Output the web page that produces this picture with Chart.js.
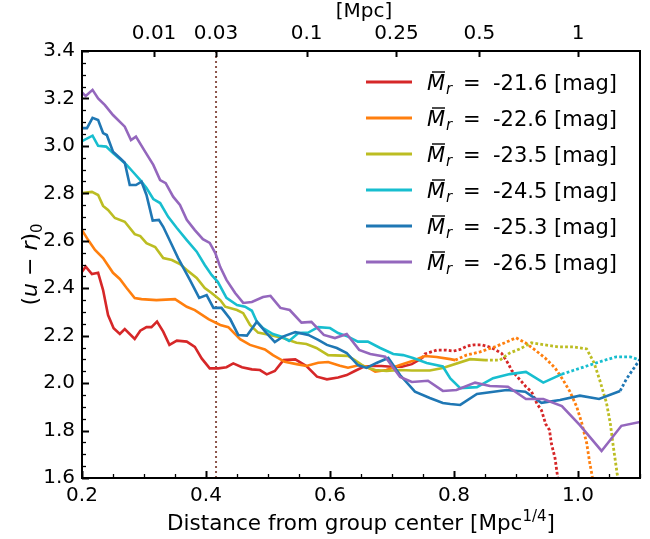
<!DOCTYPE html>
<html lang="en">
<head>
    <meta charset="UTF-8">
    <title>Colour profiles vs. group-centric distance</title>
    <script src="https://cdn.jsdelivr.net/npm/chart.js"></script>
    <style>
        body {
            margin: 0;
            padding: 0;
            background: #ffffff;
        }
        .chart-wrapper {
            position: relative;
            width: 650px;
            height: 539px;
        }
    </style>
</head>
<body>
    <div class="chart-wrapper">
        <canvas id="profileChart"></canvas>
    </div>
    <script>
        // --- data: [distance (Mpc^1/4), (u-r)_0] ---
        var redSolid = [[0.2,2.47],[0.206,2.491],[0.216,2.46],[0.226,2.465],[0.234,2.392],[0.242,2.287],[0.251,2.231],[0.261,2.207],[0.269,2.228],[0.285,2.186],[0.294,2.221],[0.304,2.236],[0.312,2.236],[0.321,2.259],[0.331,2.217],[0.341,2.161],[0.353,2.179],[0.369,2.175],[0.382,2.153],[0.393,2.104],[0.406,2.062],[0.42,2.062],[0.433,2.067],[0.444,2.083],[0.458,2.067],[0.474,2.058],[0.487,2.055],[0.498,2.037],[0.511,2.051],[0.525,2.097],[0.544,2.1],[0.562,2.072],[0.579,2.027],[0.595,2.016],[0.613,2.024],[0.627,2.034],[0.64,2.051],[0.654,2.069],[0.667,2.072],[0.683,2.072],[0.699,2.069],[0.716,2.069],[0.732,2.08],[0.748,2.104]];
        var redDotted = [[0.748,2.104],[0.753,2.123],[0.772,2.139],[0.788,2.139],[0.799,2.135],[0.81,2.142],[0.821,2.156],[0.832,2.161],[0.845,2.161],[0.856,2.153],[0.866,2.142],[0.877,2.125],[0.888,2.08],[0.893,2.053],[0.901,2.03],[0.909,2.006],[0.916,1.985],[0.925,1.964],[0.934,1.912],[0.941,1.886],[0.948,1.827],[0.954,1.802],[0.957,1.746],[0.963,1.683],[0.966,1.626],[0.968,1.59]];

        var orangeSolid = [[0.2,2.645],[0.21,2.603],[0.221,2.561],[0.234,2.527],[0.25,2.465],[0.261,2.439],[0.272,2.401],[0.285,2.359],[0.296,2.354],[0.32,2.35],[0.35,2.354],[0.369,2.322],[0.382,2.308],[0.404,2.27],[0.423,2.245],[0.436,2.236],[0.455,2.185],[0.471,2.161],[0.495,2.142],[0.508,2.118],[0.527,2.09],[0.546,2.08],[0.562,2.072],[0.581,2.086],[0.597,2.089],[0.616,2.073],[0.629,2.065],[0.648,2.076],[0.659,2.069],[0.673,2.048],[0.691,2.055],[0.713,2.076],[0.734,2.094],[0.753,2.114],[0.772,2.11],[0.794,2.101],[0.802,2.097]];
        var orangeDotted = [[0.802,2.097],[0.82,2.118],[0.842,2.132],[0.866,2.153],[0.882,2.17],[0.9,2.191],[0.915,2.17],[0.931,2.139],[0.947,2.106],[0.963,2.064],[0.976,2.013],[0.987,1.964],[0.998,1.9],[1.006,1.832],[1.014,1.747],[1.019,1.663],[1.022,1.621],[1.024,1.59]];

        var oliveSolid = [[0.2,2.801],[0.216,2.806],[0.226,2.793],[0.234,2.747],[0.242,2.73],[0.253,2.696],[0.269,2.68],[0.285,2.628],[0.294,2.62],[0.304,2.59],[0.318,2.574],[0.331,2.527],[0.345,2.519],[0.358,2.502],[0.369,2.477],[0.385,2.443],[0.398,2.401],[0.409,2.38],[0.423,2.35],[0.431,2.322],[0.45,2.308],[0.46,2.295],[0.471,2.245],[0.484,2.213],[0.503,2.203],[0.524,2.19],[0.546,2.17],[0.562,2.165],[0.578,2.148],[0.597,2.118],[0.629,2.115],[0.64,2.097],[0.656,2.069],[0.673,2.055],[0.691,2.051],[0.713,2.055],[0.732,2.053],[0.761,2.053],[0.782,2.064],[0.826,2.101],[0.85,2.097]];
        var oliveDotted = [[0.85,2.097],[0.874,2.097],[0.89,2.127],[0.906,2.144],[0.925,2.17],[0.947,2.161],[0.968,2.153],[0.992,2.153],[1.014,2.144],[1.026,2.085],[1.035,2.013],[1.046,1.916],[1.052,1.832],[1.057,1.732],[1.063,1.621],[1.065,1.59]];

        var cyanSolid = [[0.2,3.02],[0.217,3.043],[0.226,3.0],[0.239,2.997],[0.25,2.97],[0.272,2.92],[0.282,2.891],[0.294,2.856],[0.304,2.822],[0.315,2.776],[0.326,2.759],[0.339,2.701],[0.353,2.654],[0.369,2.603],[0.385,2.554],[0.398,2.498],[0.409,2.456],[0.419,2.427],[0.433,2.359],[0.45,2.329],[0.463,2.322],[0.474,2.305],[0.482,2.259],[0.492,2.232],[0.508,2.207],[0.522,2.196],[0.534,2.178],[0.549,2.211],[0.565,2.213],[0.581,2.236],[0.6,2.232],[0.613,2.211],[0.629,2.196],[0.645,2.175],[0.661,2.175],[0.681,2.148],[0.702,2.123],[0.718,2.118],[0.734,2.106],[0.756,2.085],[0.782,2.07],[0.794,2.02],[0.81,1.979],[0.837,1.983],[0.863,2.021],[0.89,2.038],[0.916,2.047],[0.944,2.002],[0.974,2.038]];
        var cyanDotted = [[0.974,2.038],[0.992,2.053],[1.014,2.072],[1.04,2.094],[1.062,2.111],[1.084,2.111],[1.1,2.097]];

        var blueSolid = [[0.2,3.075],[0.208,3.075],[0.217,3.118],[0.226,3.109],[0.234,3.054],[0.24,3.046],[0.25,2.975],[0.261,2.949],[0.269,2.929],[0.277,2.835],[0.287,2.835],[0.296,2.849],[0.304,2.793],[0.314,2.685],[0.324,2.688],[0.331,2.659],[0.345,2.582],[0.355,2.527],[0.374,2.435],[0.389,2.359],[0.401,2.371],[0.412,2.317],[0.425,2.317],[0.439,2.27],[0.452,2.203],[0.466,2.2],[0.482,2.259],[0.498,2.21],[0.511,2.173],[0.524,2.196],[0.544,2.215],[0.565,2.203],[0.581,2.182],[0.595,2.161],[0.611,2.148],[0.627,2.127],[0.645,2.076],[0.659,2.064],[0.675,2.085],[0.694,2.106],[0.713,2.034],[0.737,1.964],[0.761,1.937],[0.782,1.916],[0.794,1.912],[0.81,1.908],[0.837,1.954],[0.885,1.971],[0.915,1.964],[0.941,1.917],[0.971,1.929],[1.003,1.947],[1.034,1.933],[1.068,1.967]];
        var blueDotted = [[1.068,1.967],[1.078,2.017],[1.088,2.055],[1.1,2.1]];

        var purpleSolid = [[0.2,3.225],[0.206,3.21],[0.217,3.236],[0.226,3.2],[0.237,3.172],[0.25,3.13],[0.269,3.081],[0.279,3.025],[0.287,3.039],[0.302,2.975],[0.315,2.92],[0.326,2.856],[0.335,2.843],[0.347,2.786],[0.358,2.751],[0.369,2.688],[0.382,2.645],[0.395,2.607],[0.406,2.591],[0.415,2.548],[0.423,2.489],[0.433,2.435],[0.447,2.38],[0.46,2.338],[0.474,2.342],[0.492,2.363],[0.504,2.368],[0.52,2.317],[0.535,2.308],[0.554,2.255],[0.57,2.258],[0.59,2.203],[0.608,2.19],[0.627,2.207],[0.647,2.14],[0.665,2.123],[0.689,2.111],[0.713,2.026],[0.732,2.005],[0.758,2.01],[0.782,1.967],[0.804,1.971],[0.834,2.002],[0.858,1.988],[0.887,1.985],[0.916,1.933],[0.944,1.933],[0.974,1.903],[1.003,1.823],[1.038,1.714],[1.07,1.82],[1.1,1.836]];

        var magnitudes = ['-21.6', '-22.6', '-23.5', '-24.5', '-25.3', '-26.5'];
        var colors = ['#d62728', '#ff7f0e', '#bcbd22', '#17becf', '#1f77b4', '#9467bd'];
        var solidLines = [redSolid, orangeSolid, oliveSolid, cyanSolid, blueSolid, purpleSolid];
        var dottedLines = [redDotted, orangeDotted, oliveDotted, cyanDotted, blueDotted, null];

        var xTicks = [0.2, 0.4, 0.6, 0.8, 1.0];
        var yTicks = [1.6, 1.8, 2.0, 2.2, 2.4, 2.6, 2.8, 3.0, 3.2, 3.4];
        var mpcTicks = [0.01, 0.03, 0.1, 0.25, 0.5, 1];
        var mpcLabels = ['0.01', '0.03', '0.1', '0.25', '0.5', '1'];
        var refMpc = 0.03;   // dotted vertical marker

        var FONT = "'DejaVu Sans', sans-serif";

        function toPoints(arr) {
            return arr.map(function(p) { return { x: p[0], y: p[1] }; });
        }

        var datasets = [];
        solidLines.forEach(function(line, i) {
            datasets.push({
                data: toPoints(line),
                borderColor: colors[i],
                borderWidth: 2.6,
                pointRadius: 0,
                tension: 0,
                order: 20 - i * 2
            });
            if (dottedLines[i]) {
                datasets.push({
                    data: toPoints(dottedLines[i]),
                    borderColor: colors[i],
                    borderWidth: 2.8,
                    borderDash: [2.8, 2.2],
                    pointRadius: 0,
                    tension: 0,
                    order: 21 - i * 2
                });
            }
        });
        var refX = Math.pow(refMpc, 0.25);
        datasets.push({
            data: [{ x: refX, y: 1.6 }, { x: refX, y: 3.4 }],
            borderColor: '#8c564b',
            borderWidth: 2,
            borderDash: [2, 3],
            pointRadius: 0,
            order: 30
        });

        // frame, inward ticks, math-style titles and the legend
        var decor = {
            id: 'decor',
            afterDraw: function(chart) {
                var ctx = chart.ctx, a = chart.chartArea;
                var sx = chart.scales.x, sy = chart.scales.y, st = chart.scales.xTop;
                ctx.save();
                ctx.strokeStyle = '#000';

                function seg(x1, y1, x2, y2, w) {
                    ctx.lineWidth = w;
                    ctx.beginPath();
                    ctx.moveTo(x1, y1);
                    ctx.lineTo(x2, y2);
                    ctx.stroke();
                }
                var i, v, px, py, major;
                for (i = 0; i <= 18; i++) {
                    v = 0.2 + i * 0.05;
                    major = i % 4 === 0;
                    px = Math.round(sx.getPixelForValue(v)) + 0.5;
                    seg(px, a.bottom, px, a.bottom - (major ? 7 : 4), major ? 2 : 1.3);
                }
                for (i = 0; i <= 36; i++) {
                    v = 1.6 + i * 0.05;
                    major = i % 4 === 0;
                    py = Math.round(sy.getPixelForValue(v)) + 0.5;
                    seg(a.left, py, a.left + (major ? 7 : 4), py, major ? 2 : 1.3);
                }
                mpcTicks.forEach(function(m) {
                    px = Math.round(st.getPixelForValue(Math.pow(m, 0.25))) + 0.5;
                    seg(px, a.top, px, a.top + 6, 2);
                });
                ctx.lineWidth = 2;
                ctx.strokeRect(a.left, a.top, a.right - a.left, a.bottom - a.top);

                ctx.fillStyle = '#000';
                ctx.textBaseline = 'alphabetic';

                // top title
                ctx.font = '20px ' + FONT;
                ctx.textAlign = 'center';
                ctx.fillText('[Mpc]', (a.left + a.right) / 2 + 3, 17);

                // x title with superscript
                ctx.textAlign = 'left';
                var main = 'Distance from group center [Mpc';
                ctx.font = '21.5px ' + FONT;
                var w1 = ctx.measureText(main).width;
                ctx.font = '15px ' + FONT;
                var w2 = ctx.measureText('1/4').width;
                ctx.font = '21.5px ' + FONT;
                var w3 = ctx.measureText(']').width;
                var x0 = (a.left + a.right) / 2 - (w1 + w2 + w3) / 2;
                var by = 530;
                ctx.fillText(main, x0, by);
                ctx.font = '15px ' + FONT;
                ctx.fillText('1/4', x0 + w1, by - 9);
                ctx.font = '21.5px ' + FONT;
                ctx.fillText(']', x0 + w1 + w2, by);

                // y title (u - r)_0, rotated
                ctx.save();
                ctx.translate(37, (a.top + a.bottom) / 2);
                ctx.rotate(-Math.PI / 2);
                var parts = [
                    ['(', '22px ' + FONT, 0],
                    ['u', 'oblique 22px ' + FONT, 0],
                    [' \u2212 ', '22px ' + FONT, 0],
                    ['r', 'oblique 22px ' + FONT, 0],
                    [')', '22px ' + FONT, 0],
                    ['0', '15px ' + FONT, 5]
                ];
                var total = 0;
                parts.forEach(function(p) { ctx.font = p[1]; total += ctx.measureText(p[0]).width; });
                var cx = -total / 2;
                parts.forEach(function(p) {
                    ctx.font = p[1];
                    ctx.fillText(p[0], cx, p[2]);
                    cx += ctx.measureText(p[0]).width;
                });
                ctx.restore();

                // legend
                magnitudes.forEach(function(mag, k) {
                    var ry = 82 + k * 36;
                    ctx.strokeStyle = colors[k];
                    seg(366, ry, 412, ry, 2.8);
                    var base = ry + 8;
                    ctx.font = 'oblique 21px ' + FONT;
                    ctx.fillText('M', 427, base);
                    var mw = ctx.measureText('M').width;
                    ctx.strokeStyle = '#000';
                    seg(432, base - 18, 445, base - 18, 1.4);
                    ctx.font = 'oblique 15px ' + FONT;
                    ctx.fillText('r', 427 + mw + 1, base + 4);
                    ctx.font = '21px ' + FONT;
                    ctx.fillText('=', 463, base);
                    ctx.fillText(mag + ' [mag]', 493, base);
                });
                ctx.restore();
            }
        };

        var ctx = document.getElementById('profileChart').getContext('2d');
        var chart = new Chart(ctx, {
            type: 'line',
            data: { datasets: datasets },
            options: {
                responsive: true,
                maintainAspectRatio: false,
                animation: false,
                layout: { padding: { left: 0, right: 10, top: 0, bottom: 0 } },
                scales: {
                    x: {
                        type: 'linear',
                        position: 'bottom',
                        min: 0.2,
                        max: 1.1,
                        grid: { display: false, drawTicks: false },
                        border: { display: false },
                        afterFit: function(s) { s.height = 61; },
                        afterBuildTicks: function(s) {
                            s.ticks = xTicks.map(function(v) { return { value: v }; });
                        },
                        ticks: {
                            color: '#000',
                            padding: 6,
                            font: { family: FONT, size: 20 },
                            callback: function(v) { return Number(v).toFixed(1); }
                        }
                    },
                    xTop: {
                        type: 'linear',
                        position: 'top',
                        min: 0.2,
                        max: 1.1,
                        grid: { display: false, drawTicks: false },
                        border: { display: false },
                        afterFit: function(s) { s.height = 51; },
                        afterBuildTicks: function(s) {
                            s.ticks = mpcTicks.map(function(m) { return { value: Math.pow(m, 0.25) }; });
                        },
                        ticks: {
                            color: '#000',
                            padding: 5,
                            autoSkip: false,
                            maxRotation: 0,
                            font: { family: FONT, size: 20 },
                            callback: function(v, idx) { return mpcLabels[idx]; }
                        }
                    },
                    y: {
                        type: 'linear',
                        min: 1.6,
                        max: 3.4,
                        grid: { display: false, drawTicks: false },
                        border: { display: false },
                        afterFit: function(s) { s.width = 82; },
                        afterBuildTicks: function(s) {
                            s.ticks = yTicks.map(function(v) { return { value: v }; });
                        },
                        ticks: {
                            color: '#000',
                            padding: 7,
                            font: { family: FONT, size: 20 },
                            callback: function(v) { return Number(v).toFixed(1); }
                        }
                    }
                },
                plugins: {
                    legend: { display: false },
                    tooltip: { enabled: false }
                }
            },
            plugins: [decor]
        });
    </script>
</body>
</html>
